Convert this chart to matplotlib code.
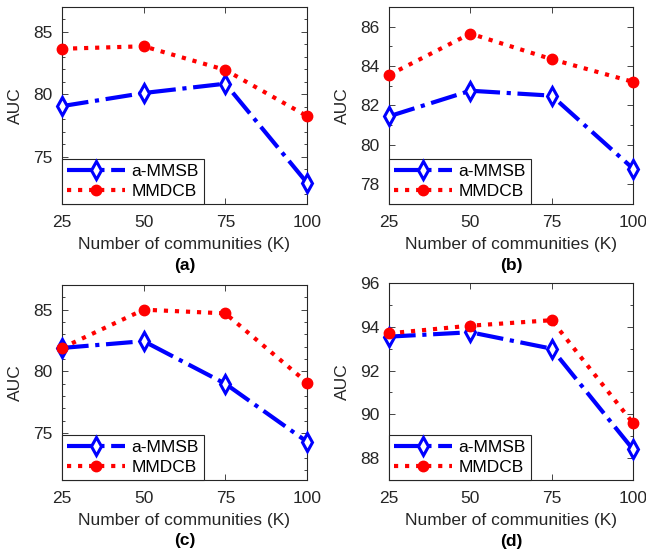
import matplotlib
matplotlib.use("Agg")
import matplotlib.pyplot as plt
from matplotlib.ticker import MultipleLocator

plt.rcParams['font.family'] = ['Liberation Sans', 'DejaVu Sans']

K = [25, 50, 75, 100]
k_ticks = [25, 50, 75, 100]

# AUC values per panel
ammsb_a = [79.05, 80.1, 80.85, 72.9]
mmdcb_a = [83.65, 83.85, 81.95, 78.25]
ammsb_b = [81.45, 82.75, 82.5, 78.8]
mmdcb_b = [83.55, 85.65, 84.35, 83.2]
ammsb_c = [81.9, 82.45, 79.0, 74.3]
mmdcb_c = [81.9, 85.0, 84.7, 79.1]
ammsb_d = [93.55, 93.75, 93.0, 88.4]
mmdcb_d = [93.7, 94.05, 94.3, 89.6]

panels = [
    ("(a)", ammsb_a, mmdcb_a, (71.2, 87), 5, 1),
    ("(b)", ammsb_b, mmdcb_b, (77, 87), 2, 1),
    ("(c)", ammsb_c, mmdcb_c, (71.2, 87), 5, 1),
    ("(d)", ammsb_d, mmdcb_d, (87, 96), 2, 1),
]

# axes boxes in pixels: left, top, right, bottom
boxes = [(62, 7, 307, 204), (389, 7, 633, 204),
         (62, 285, 307, 480), (389, 283, 633, 480)]

W, H = 646, 552
fig = plt.figure(figsize=(W / 100, H / 100), dpi=100)
frame = '#262626'

for (cap, a, m, ylim, major, minor), (l, t, r, b) in zip(panels, boxes):
    ax = fig.add_axes([l / W, 1 - b / H, (r - l) / W, (b - t) / H])
    ax.plot(K, a, color='#0000ff', linestyle='-.', linewidth=3,
            marker='d', markersize=9, markerfacecolor='white',
            markeredgewidth=2.2, label='a-MMSB', clip_on=False, zorder=3)
    ax.plot(K, m, color='#ff0000', linestyle=':', linewidth=3,
            marker='o', markersize=7.5, markerfacecolor='#ff0000',
            label='MMDCB', clip_on=False, zorder=4)
    ax.set_xlim(25, 100)
    ax.set_ylim(*ylim)
    ax.set_xticks(k_ticks)
    ax.yaxis.set_major_locator(MultipleLocator(major))
    ax.yaxis.set_minor_locator(MultipleLocator(minor))
    ax.tick_params(which='both', direction='in', top=True, right=True,
                   labelsize=12.5, colors=frame, labelcolor='#262626')
    ax.tick_params(which='major', length=4, width=0.6)
    ax.tick_params(which='minor', length=2.5, width=0.6)
    ax.tick_params(axis='x', pad=8)
    ax.tick_params(axis='y', pad=7)
    for s in ax.spines.values():
        s.set_color(frame)
        s.set_linewidth(0.8)
    ax.set_ylabel('AUC', fontsize=12.5, color='#262626', labelpad=7)
    ax.set_xlabel('Number of communities (K)', fontsize=12.5,
                  color='#262626', labelpad=5)
    ax.text(0.5, -0.31, cap, transform=ax.transAxes, ha='center',
            va='center', fontsize=12.5, fontweight='bold')
    leg = ax.legend(loc='lower left', borderaxespad=0, fontsize=12.5,
                    fancybox=False, handlelength=3.3, handletextpad=0.4,
                    borderpad=0.3, labelspacing=0.25, framealpha=1)
    leg.get_frame().set_edgecolor(frame)
    leg.get_frame().set_linewidth(0.8)

fig.savefig('out.png', dpi=100)
